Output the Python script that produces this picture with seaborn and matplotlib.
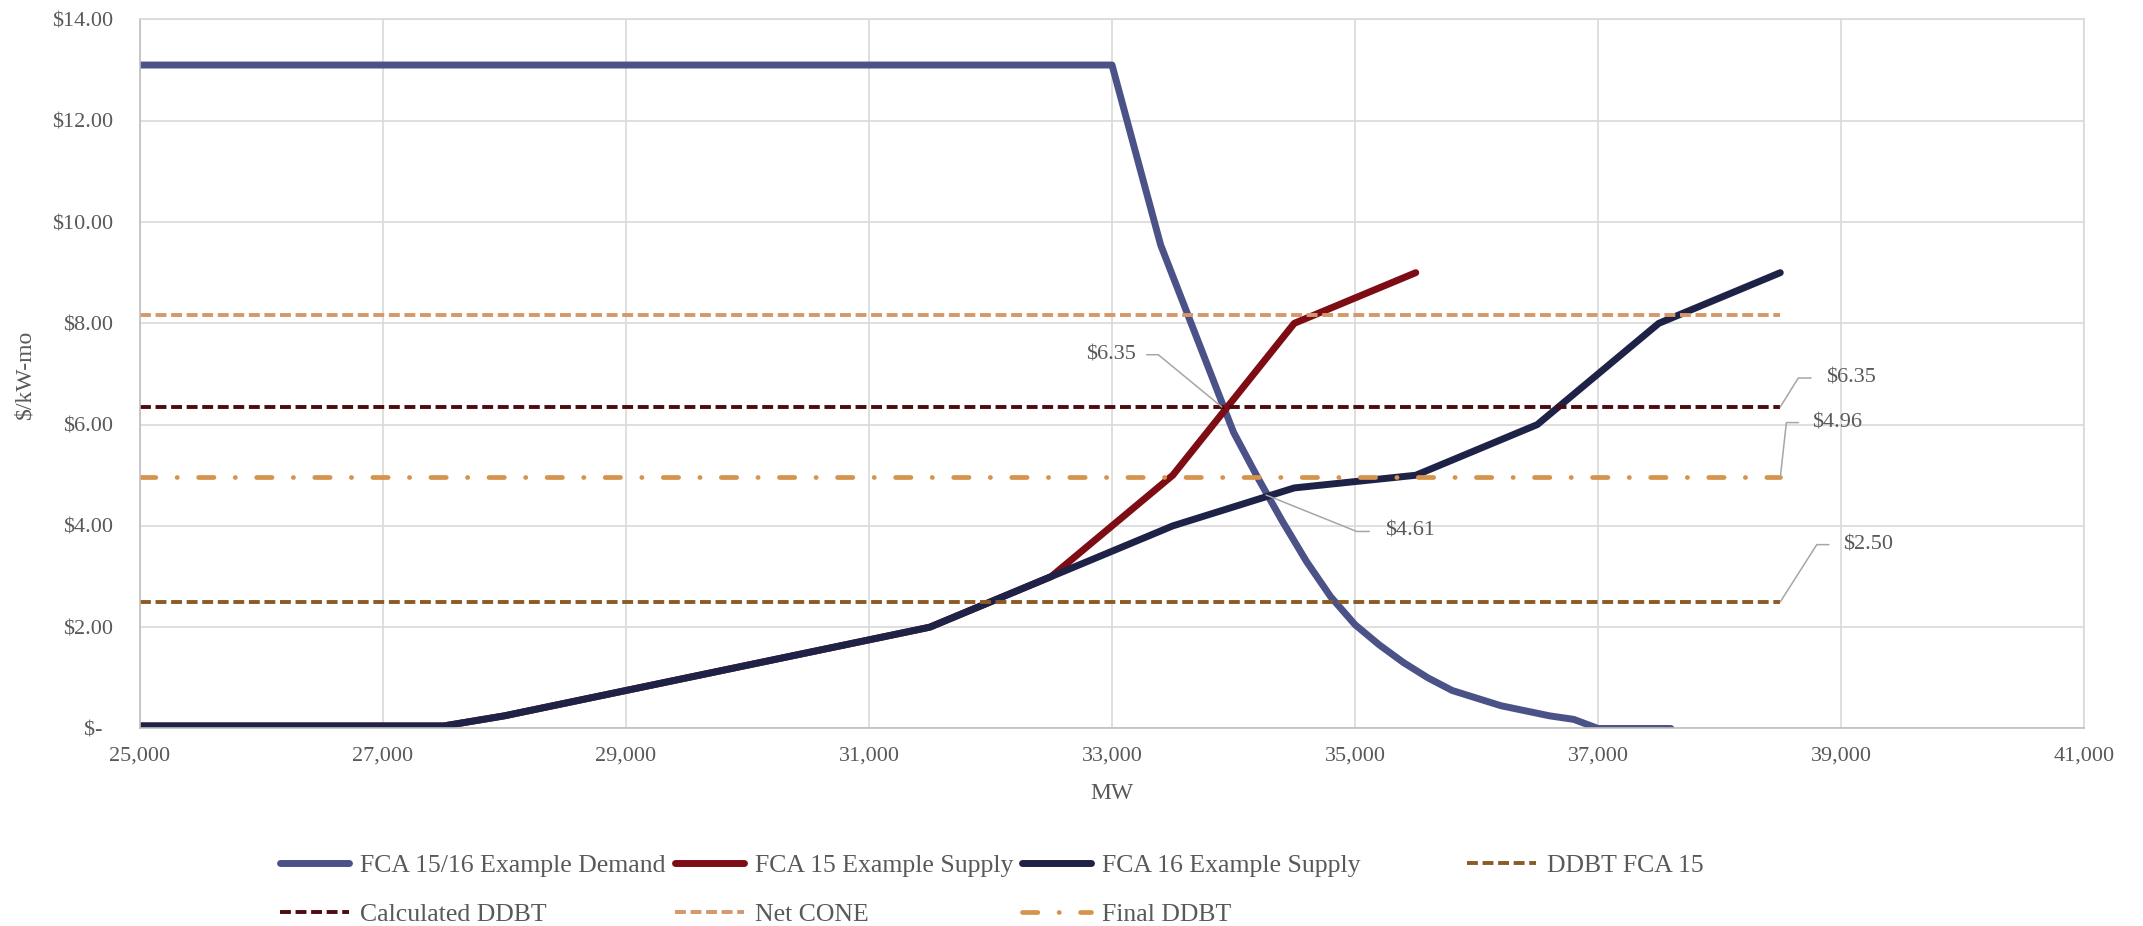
import matplotlib
matplotlib.use("Agg")
import matplotlib.pyplot as plt
import pandas as pd
import seaborn as sns
from matplotlib.ticker import FuncFormatter, MultipleLocator, FixedLocator

# demand curve (MW, $/kW-mo)
demand_mw = [25000, 33000, 33400, 34000, 34200, 34400, 34600, 34800, 35000, 35200,
             35400, 35600, 35800, 36000, 36200, 36400, 36600, 36800, 37000, 37600]
demand_price = [13.1, 13.1, 9.55, 5.85, 4.95, 4.1, 3.3, 2.6, 2.05, 1.65,
                1.3, 1.0, 0.75, 0.6, 0.45, 0.35, 0.25, 0.18, 0.0, 0.0]

# supply curves
fca15_mw = [25000, 27500, 28000, 29500, 30000, 31500, 32500, 33500, 34500, 35500]
fca15_price = [0.05, 0.05, 0.25, 1.0, 1.25, 2.0, 3.0, 5.0, 8.0, 9.0]
fca16_mw = [25000, 27500, 28000, 29500, 30000, 31500, 32500, 33500, 34500, 35500,
            36500, 37500, 38500]
fca16_price = [0.05, 0.05, 0.25, 1.0, 1.25, 2.0, 3.0, 4.0, 4.75, 5.0, 6.0, 8.0, 9.0]

# flat reference prices
ref_mw = [25000, 38500]
ddbt_fca15 = 2.50
calc_ddbt = 6.35
net_cone = 8.17
final_ddbt = 4.96

# axis ticks
x_ticks = [25000, 27000, 29000, 31000, 33000, 35000, 37000, 39000, 41000]

# data labels: value, leader path (MW, $), text anchor, alignment
label_values = [6.35, 4.61, 6.35, 4.96, 2.50]
label_paths = [
    [(33903, 6.35), (33381, 7.38), (33286, 7.38)],
    [(34268, 4.61), (35014, 3.89), (35118, 3.89)],
    [(38500, 6.35), (38648, 6.92), (38753, 6.92)],
    [(38500, 4.96), (38550, 6.04), (38650, 6.04)],
    [(38500, 2.50), (38800, 3.63), (38900, 3.63)],
]
label_text_pos = [(33200, 7.38, "right"), (35247, 3.89, "left"), (38874, 6.92, "left"),
                  (38760, 6.04, "left"), (39020, 3.63, "left")]

sns.set_theme(style="whitegrid")
plt.rcParams['font.family'] = ['Liberation Serif', 'DejaVu Serif']

fig = plt.figure(figsize=(21.43, 9.26), dpi=100)
ax = fig.add_axes([0.0653, 0.2133, 0.9072, 0.7657])

text_col = '#595959'

series = [
    ("FCA 15/16 Example Demand", demand_mw, demand_price, '#4B5288', 5.0, '-'),
    ("FCA 15 Example Supply", fca15_mw, fca15_price, '#7E0C14', 5.0, '-'),
    ("FCA 16 Example Supply", fca16_mw, fca16_price, '#1F2247', 5.0, '-'),
    ("DDBT FCA 15", ref_mw, [ddbt_fca15] * 2, '#8C5B25', 2.8, (0, (2.8, 1.2))),
    ("Calculated DDBT", ref_mw, [calc_ddbt] * 2, '#4E0B0E', 2.8, (0, (2.8, 1.2))),
    ("Net CONE", ref_mw, [net_cone] * 2, '#D4986A', 2.8, (0, (2.8, 1.2))),
    ("Final DDBT", ref_mw, [final_ddbt] * 2, '#D5934B', 3.4, (0, (3.25, 4.5, 0.05, 4.5))),
]

handles = []
for name, xs, ys, col, lw, ls in series:
    df = pd.DataFrame({"MW": xs, "price": ys})
    sns.lineplot(data=df, x="MW", y="price", ax=ax, color=col, linewidth=lw,
                 linestyle=ls, label=name, sort=False, estimator=None)
    line = ax.lines[-1]
    if ls == '-':
        line.set_solid_capstyle('round')
        line.set_solid_joinstyle('round')
    elif name == "Final DDBT":
        line.set_dash_capstyle('round')
    else:
        line.set_dash_capstyle('butt')
    handles.append(line)

if ax.get_legend() is not None:
    ax.get_legend().remove()

# data labels with leader lines
for val, path, (tx, ty, ha) in zip(label_values, label_paths, label_text_pos):
    ax.plot([p[0] for p in path], [p[1] for p in path], color='#A6A6A6', lw=1.1, zorder=5)
    ax.text(tx, ty, f"${val:.2f}", ha=ha, va='center', fontsize=16, color=text_col)

ax.set_xlim(25000, 41000)
ax.set_ylim(0, 14)
ax.xaxis.set_major_locator(FixedLocator(x_ticks))
ax.yaxis.set_major_locator(MultipleLocator(2))
ax.xaxis.set_major_formatter(FuncFormatter(lambda v, p: f"{v:,.0f}"))
ax.yaxis.set_major_formatter(FuncFormatter(lambda v, p: "$-  " if v == 0 else f"${v:,.2f}"))
ax.tick_params(axis='x', labelsize=16, colors=text_col, pad=13, length=0)
ax.tick_params(axis='y', labelsize=16, colors=text_col, pad=19, length=0)
ax.grid(True, color='#D9D9D9', linewidth=1.2)
for side in ['left', 'bottom']:
    ax.spines[side].set_color('#BFBFBF')
    ax.spines[side].set_linewidth(1.2)
for side in ['top', 'right']:
    ax.spines[side].set_color('#D9D9D9')
    ax.spines[side].set_linewidth(1.2)

ax.set_xlabel("MW", fontsize=17, color=text_col, va='center')
ax.xaxis.set_label_coords(0.5, -0.091)
ax.set_ylabel("$/kW-mo", fontsize=17, color=text_col, va='center')
ax.yaxis.set_label_coords(-0.0592, 0.5)

# legend: four columns placed like the original
legend_cols = [[0, 4], [1, 5], [2, 6], [3]]
legend_x = [280, 675, 1022, 1467]
for idxs, xpx in zip(legend_cols, legend_x):
    leg = fig.legend([handles[i] for i in idxs], [series[i][0] for i in idxs],
                     loc='upper left', bbox_to_anchor=(xpx / 2143, 1 - 854 / 926),
                     frameon=False, fontsize=18.5, handlelength=2.7, handletextpad=0.4,
                     labelspacing=1.0, borderpad=0, borderaxespad=0)
    for t in leg.get_texts():
        t.set_color(text_col)

fig.savefig("out.png", dpi=100, facecolor='white')
